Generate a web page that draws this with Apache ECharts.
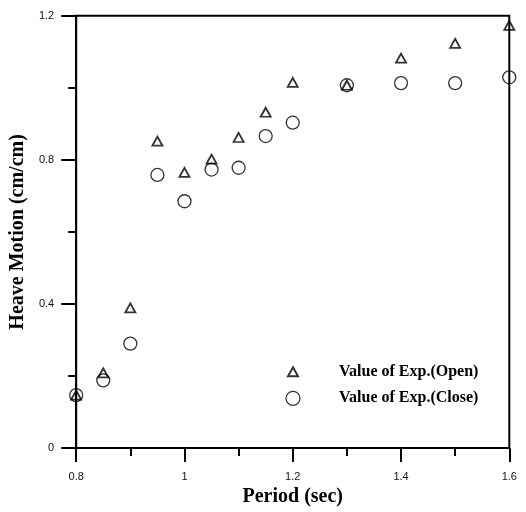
<!DOCTYPE html>
<html>
<head>
<meta charset="utf-8">
<script src="https://cdn.jsdelivr.net/npm/echarts@6/dist/echarts.min.js"></script>
<style>
html,body{margin:0;padding:0;background:#fff;}
#chart{width:526px;height:512px;}
</style>
</head>
<body>
<div id="chart"></div>
<script>
var periods = [0.8, 0.85, 0.9, 0.95, 1.0, 1.05, 1.1, 1.15, 1.2, 1.3, 1.4, 1.5, 1.6];
var openValues = [0.147, 0.209, 0.389, 0.852, 0.765, 0.802, 0.862, 0.932, 1.015, 1.007, 1.082, 1.123, 1.173];
var closeValues = [0.147, 0.188, 0.290, 0.758, 0.685, 0.773, 0.778, 0.866, 0.903, 1.007, 1.013, 1.013, 1.029];
var seriesNames = ['Value of Exp.(Open)', 'Value of Exp.(Close)'];
var xTitle = 'Period (sec)';
var yTitle = 'Heave Motion (cm/cm)';

function pairs(xs, ys) { return xs.map(function (x, i) { return [x, ys[i]]; }); }

var serifFont = '"Liberation Serif", "DejaVu Serif", serif';
var sansFont = '"Liberation Sans", Arial, sans-serif';
var axisLineStyle = { color: '#000', width: 2 };

var chart = echarts.init(document.getElementById('chart'), null, { renderer: 'canvas' });
chart.setOption({
  backgroundColor: '#fff',
  animation: false,
  grid: { left: 72.5, right: 16.7, top: 15.7, bottom: 59.3, show: true, borderColor: '#000', borderWidth: 2, backgroundColor: 'transparent' },
  xAxis: {
    type: 'value', min: 0.8, max: 1.6, interval: 0.2,
    name: xTitle, nameLocation: 'middle', nameGap: 38,
    nameTextStyle: { fontFamily: serifFont, fontWeight: 'bold', fontSize: 20, color: '#000' },
    axisLine: { show: true, onZero: false, lineStyle: axisLineStyle },
    axisTick: { show: true, length: 14, lineStyle: { color: '#000', width: 2 } },
    minorTick: { show: true, splitNumber: 2, length: 8, lineStyle: { color: '#000', width: 2 } },
    splitLine: { show: false },
    axisLabel: { margin: 23, fontFamily: sansFont, fontSize: 11, color: '#111',
      formatter: function (v) { return String(+v.toFixed(1)); } }
  },
  yAxis: {
    type: 'value', min: 0, max: 1.2, interval: 0.4,
    name: yTitle, nameLocation: 'middle', nameGap: 37,
    nameTextStyle: { fontFamily: serifFont, fontWeight: 'bold', fontSize: 20, color: '#000' },
    axisLine: { show: true, onZero: false, lineStyle: axisLineStyle },
    axisTick: { show: true, length: 15, lineStyle: { color: '#000', width: 2 } },
    minorTick: { show: true, splitNumber: 2, length: 8, lineStyle: { color: '#000', width: 2 } },
    splitLine: { show: false },
    axisLabel: { margin: 22, fontFamily: sansFont, fontSize: 11, color: '#111',
      formatter: function (v) { return String(+v.toFixed(1)); } }
  },
  legend: {
    orient: 'vertical', left: 280, top: 358.7, itemGap: 10.6, padding: 5,
    itemWidth: 14, itemHeight: 14,
    data: [
      { name: seriesNames[0], icon: 'path://M0,0 M14,14 M7,2.5 L12,11.5 L2,11.5 Z' },
      { name: seriesNames[1], icon: 'circle', itemStyle: { borderWidth: 1.3 } }
    ],
    textStyle: { fontFamily: serifFont, fontWeight: 'bold', fontSize: 16, color: '#000', padding: [0, 0, 0, 34] }
  },
  series: [
    {
      name: seriesNames[0], type: 'scatter', symbol: 'triangle', symbolSize: [10, 9], clip: false,
      data: pairs(periods, openValues),
      itemStyle: { color: 'transparent', borderColor: '#000', borderWidth: 1.8 }
    },
    {
      name: seriesNames[1], type: 'scatter', symbol: 'circle', symbolSize: 13, clip: false,
      data: pairs(periods, closeValues),
      itemStyle: { color: 'transparent', borderColor: '#000', borderWidth: 1.3 }
    }
  ]
});
</script>
</body>
</html>
